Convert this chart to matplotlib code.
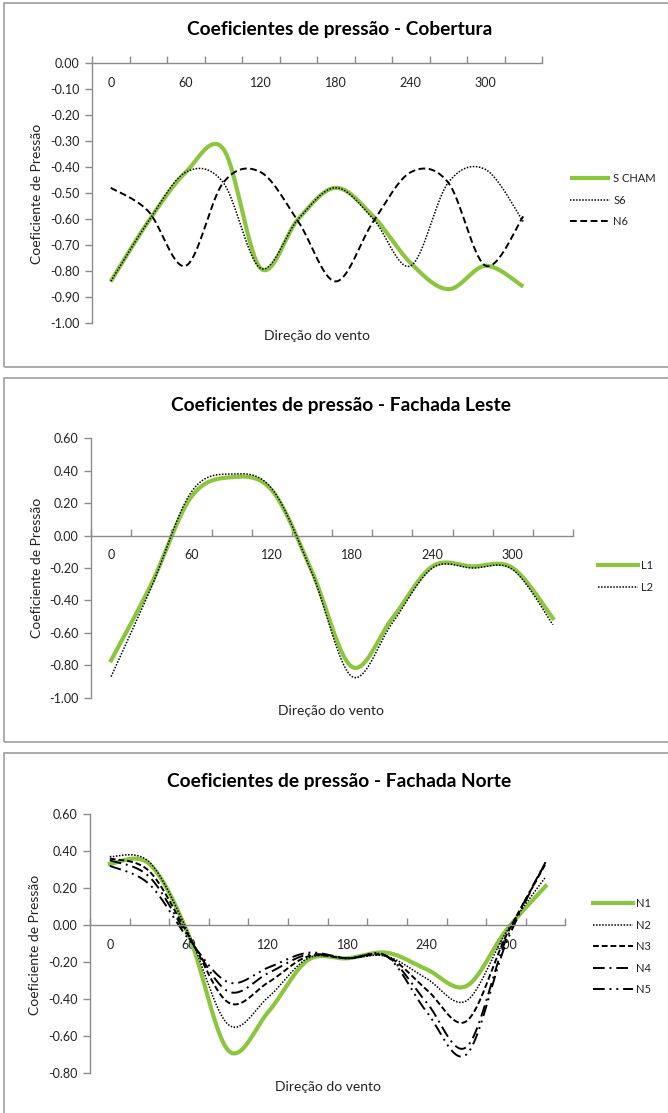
import numpy as np
import matplotlib
matplotlib.use("Agg")
import matplotlib.pyplot as plt
from matplotlib.patches import Rectangle

plt.rcParams['font.family'] = ['Lato', 'DejaVu Sans']

# ---------------- data ----------------
directions = [0, 30, 60, 90, 120, 150, 180, 210, 240, 270, 300, 330]
dir_labels = ["0", "60", "120", "180", "240", "300"]
dir_label_pos = [0, 60, 120, 180, 240, 300]

# Cobertura
s_cham = [-0.84, -0.61, -0.42, -0.33, -0.79, -0.60, -0.48, -0.59, -0.77, -0.87, -0.78, -0.86]
s6 = [-0.84, -0.61, -0.42, -0.46, -0.79, -0.60, -0.48, -0.60, -0.78, -0.46, -0.41, -0.61]
n6 = [-0.48, -0.57, -0.78, -0.46, -0.42, -0.61, -0.84, -0.61, -0.42, -0.46, -0.78, -0.59]

# Fachada Leste
l1 = [-0.77, -0.30, 0.24, 0.36, 0.28, -0.22, -0.81, -0.51, -0.19, -0.19, -0.20, -0.51]
l2 = [-0.87, -0.32, 0.27, 0.38, 0.29, -0.23, -0.87, -0.54, -0.20, -0.20, -0.21, -0.55]

# Fachada Norte
n1 = [0.33, 0.33, -0.06, -0.68, -0.47, -0.19, -0.18, -0.15, -0.24, -0.33, -0.03, 0.21]
n2 = [0.37, 0.34, -0.05, -0.54, -0.39, -0.18, -0.18, -0.17, -0.29, -0.41, -0.04, 0.26]
n3 = [0.36, 0.29, -0.06, -0.42, -0.31, -0.17, -0.18, -0.17, -0.35, -0.52, -0.06, 0.33]
n4 = [0.35, 0.26, -0.07, -0.36, -0.26, -0.16, -0.18, -0.17, -0.42, -0.66, -0.08, 0.34]
n5 = [0.32, 0.22, -0.08, -0.31, -0.23, -0.15, -0.18, -0.17, -0.47, -0.70, -0.10, 0.34]

GREEN = '#8cc63f'
AXIS_GRAY = '#8c8c8c'
TEXT = '#222222'
W, H = 668, 1113


def smooth(x, y, n=40):
    """Excel-like smoothed line (Catmull-Rom as cubic Bezier)."""
    x = np.asarray(x, float)
    y = np.asarray(y, float)
    px = np.concatenate([[x[0]], x, [x[-1]]])
    py = np.concatenate([[y[0]], y, [y[-1]]])
    xs, ys = [], []
    for i in range(len(x) - 1):
        t = np.linspace(0, 1, n, endpoint=(i == len(x) - 2))
        p0, p1, p2, p3 = (np.array([px[i + k], py[i + k]]) for k in range(4))
        c1 = p1 + (p2 - p0) / 6.0
        c2 = p2 - (p3 - p1) / 6.0
        b = ((1 - t) ** 3)[:, None] * p1 + (3 * (1 - t) ** 2 * t)[:, None] * c1 \
            + (3 * (1 - t) * t ** 2)[:, None] * c2 + (t ** 3)[:, None] * p2
        xs.append(b[:, 0])
        ys.append(b[:, 1])
    return np.concatenate(xs), np.concatenate(ys)


def fx(px):
    return px / W


def fy(py):
    return 1 - py / H


fig = plt.figure(figsize=(W / 100, H / 100), dpi=100)
fig.patch.set_facecolor('white')

# panel frames
for top, bottom in [(3, 367), (378, 742), (753, 1125)]:
    fig.patches.append(Rectangle((fx(4), fy(bottom)), fx(700), fy(top) - fy(bottom),
                                 transform=fig.transFigure, fill=False,
                                 edgecolor='#a6a6a6', lw=1.3))

TICK_FS = 9
LABEL_FS = 10
TITLE_FS = 13.8
LEG_FS = 8


def make_axes(left, right, top_px, bottom_px, ymin, ymax, yticks):
    ax = fig.add_axes([fx(left), fy(bottom_px), fx(right - left), fy(top_px) - fy(bottom_px)])
    ax.set_xlim(-15, 345)
    ax.set_ylim(ymin, ymax)
    for s in ('top', 'right'):
        ax.spines[s].set_visible(False)
    ax.spines['bottom'].set_position(('data', 0))
    for s in ('left', 'bottom'):
        ax.spines[s].set_color(AXIS_GRAY)
        ax.spines[s].set_linewidth(1.0)
    ax.set_xticks(np.arange(-15, 346, 30))
    ax.set_xticklabels([])
    ax.set_xticks(dir_label_pos, minor=True)
    ax.set_xticklabels(dir_labels, minor=True)
    ax.tick_params(axis='x', which='major', direction='in', length=5, color=AXIS_GRAY, width=1.0)
    ax.tick_params(axis='x', which='minor', length=0, pad=10, labelsize=TICK_FS, labelcolor=TEXT)
    ax.set_yticks(yticks)
    ax.set_yticklabels([("%.2f" % v).replace('-0.00', '0.00') for v in yticks])
    ax.tick_params(axis='y', direction='out', length=5, color=AXIS_GRAY, width=1.0,
                   labelsize=TICK_FS, labelcolor=TEXT, pad=4)
    ax.patch.set_alpha(0)
    return ax


def add_legend(ax, x_px, top_px, left, width, ax_top, ax_height):
    ax.legend(loc='upper left', bbox_to_anchor=((x_px - left) / width, 1 - (top_px - ax_top) / ax_height),
              frameon=False, fontsize=LEG_FS, handlelength=3.6, labelspacing=0.95, handletextpad=0.3,
              borderpad=0, borderaxespad=0, labelcolor=TEXT)


# ---------- Panel 1: Cobertura ----------
ax1 = make_axes(92, 542, 63, 323, -1.0, 0.0, np.round(np.arange(-1.0, 0.001, 0.1), 2))
x, y = smooth(directions, s_cham)
ax1.plot(x, y, color=GREEN, lw=3.0, label='S CHAM', solid_capstyle='butt')
x, y = smooth(directions, s6)
ax1.plot(x, y, color='black', lw=1.1, ls=(0, (1, 1)), label='S6')
x, y = smooth(directions, n6)
ax1.plot(x, y, color='black', lw=1.4, ls=(0, (3.5, 1.8)), label='N6')
add_legend(ax1, 570, 173, 92, 450, 63, 260)
fig.text(fx(340), fy(30), 'Coeficientes de pressão - Cobertura', ha='center', va='center',
         fontsize=TITLE_FS, fontweight='bold', color='black')
fig.text(fx(317), fy(336), 'Direção do vento', ha='center', va='center', fontsize=LABEL_FS, color=TEXT)
fig.text(fx(37), fy(194), 'Coeficiente de Pressão', ha='center', va='center', rotation=90,
         fontsize=LABEL_FS, color=TEXT)

# ---------- Panel 2: Fachada Leste ----------
ax2 = make_axes(91, 573, 438.3, 697.7, -1.0, 0.6, np.round(np.arange(-1.0, 0.601, 0.2), 2))
x, y = smooth(directions, l1)
ax2.plot(x, y, color=GREEN, lw=3.0, label='L1')
x, y = smooth(directions, l2)
ax2.plot(x, y, color='black', lw=1.1, ls=(0, (1, 1)), label='L2')
add_legend(ax2, 598, 560, 91, 482, 438.3, 259.4)
fig.text(fx(341), fy(405), 'Coeficientes de pressão - Fachada Leste', ha='center', va='center',
         fontsize=TITLE_FS, fontweight='bold', color='black')
fig.text(fx(331), fy(711), 'Direção do vento', ha='center', va='center', fontsize=LABEL_FS, color=TEXT)
fig.text(fx(37), fy(568), 'Coeficiente de Pressão', ha='center', va='center', rotation=90,
         fontsize=LABEL_FS, color=TEXT)

# ---------- Panel 3: Fachada Norte ----------
ax3 = make_axes(90, 565.4, 814, 1073, -0.8, 0.6, np.round(np.arange(-0.8, 0.601, 0.2), 2))
x, y = smooth(directions, n1)
ax3.plot(x, y, color=GREEN, lw=3.0, label='N1')
x, y = smooth(directions, n2)
ax3.plot(x, y, color='black', lw=1.1, ls=(0, (1, 1)), label='N2')
x, y = smooth(directions, n3)
ax3.plot(x, y, color='black', lw=1.4, ls=(0, (3, 1.5)), label='N3')
x, y = smooth(directions, n4)
ax3.plot(x, y, color='black', lw=1.4, ls=(0, (6, 2.5, 1, 2.5)), label='N4')
x, y = smooth(directions, n5)
ax3.plot(x, y, color='black', lw=1.4, ls=(0, (6, 2.5, 1, 2.5, 1, 2.5)), label='N5')
add_legend(ax3, 593, 898, 90, 475.4, 814, 259)
fig.text(fx(339), fy(782), 'Coeficientes de pressão - Fachada Norte', ha='center', va='center',
         fontsize=TITLE_FS, fontweight='bold', color='black')
fig.text(fx(328), fy(1087), 'Direção do vento', ha='center', va='center', fontsize=LABEL_FS, color=TEXT)
fig.text(fx(35), fy(945), 'Coeficiente de Pressão', ha='center', va='center', rotation=90,
         fontsize=LABEL_FS, color=TEXT)

fig.savefig('out.png', dpi=100, facecolor='white')
